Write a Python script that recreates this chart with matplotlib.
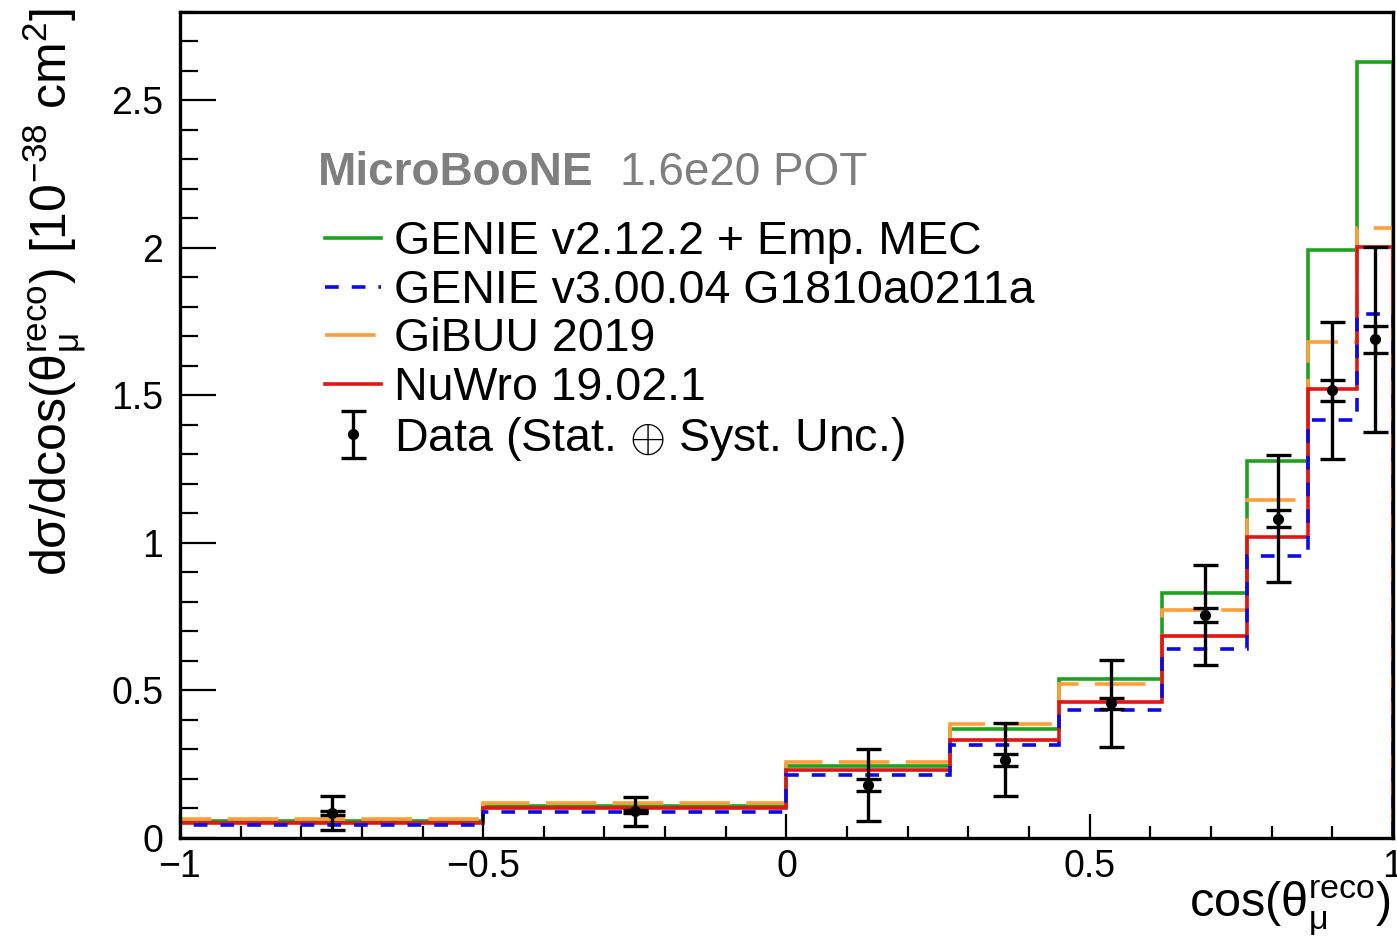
import numpy as np
import matplotlib
matplotlib.use("Agg")
import matplotlib.pyplot as plt

# bin edges in cos(theta_mu reco)
edges = [-1.0, -0.5, 0.0, 0.27, 0.45, 0.62, 0.76, 0.86, 0.94, 1.0]

# model predictions, 10^-38 cm^2
genie_v2 = [0.059, 0.110, 0.244, 0.369, 0.539, 0.832, 1.277, 1.994, 2.63]
genie_v3 = [0.044, 0.088, 0.214, 0.316, 0.434, 0.642, 0.956, 1.416, 1.777]
gibuu = [0.064, 0.119, 0.259, 0.386, 0.521, 0.772, 1.145, 1.68, 2.067]
nuwro = [0.052, 0.102, 0.229, 0.331, 0.462, 0.685, 1.021, 1.523, 2.003]

# data with stat and total (stat + syst) uncertainties
data = [0.085, 0.090, 0.180, 0.265, 0.456, 0.755, 1.083, 1.518, 1.690]
err_stat = [0.006, 0.006, 0.021, 0.020, 0.020, 0.024, 0.030, 0.035, 0.045]
err_tot = [0.057, 0.049, 0.123, 0.124, 0.146, 0.170, 0.215, 0.232, 0.315]

labels = ["GENIE v2.12.2 + Emp. MEC", "GENIE v3.00.04 G1810a0211a",
          "GiBUU 2019", "NuWro 19.02.1", "Data (Stat. $\\oplus$ Syst. Unc.)"]

plt.rcParams["font.family"] = ["Liberation Sans", "DejaVu Sans"]
plt.rcParams["mathtext.fontset"] = "custom"
plt.rcParams["mathtext.rm"] = "Liberation Sans"
plt.rcParams["mathtext.it"] = "Liberation Sans:italic"
plt.rcParams["mathtext.bf"] = "Liberation Sans:bold"

fig = plt.figure(figsize=(13.97, 9.44), dpi=100)
ax = fig.add_axes([0.1288, 0.1123, 0.8683, 0.875])

centers = 0.5 * (np.array(edges[:-1]) + np.array(edges[1:]))

lw = 2.6
h_v2 = ax.stairs(genie_v2, edges, color="#1fa01f", lw=lw)
h_gi = ax.stairs(gibuu, edges, color="#ff9f3a", lw=lw, linestyle=(0, (14, 4.5)))
h_nu = ax.stairs(nuwro, edges, color="#e01515", lw=lw)
h_v3 = ax.stairs(genie_v3, edges, color="#0b0be8", lw=lw, linestyle=(0, (3.8, 3.6)))

# total error
h_dat = ax.errorbar(centers, data, yerr=err_tot, fmt="o", color="black",
                    ms=7, elinewidth=2.4, capsize=9, capthick=2.4, zorder=5)
# stat error ticks
ax.errorbar(centers, data, yerr=err_stat, fmt="none", ecolor="black",
            elinewidth=2.4, capsize=9, capthick=2.4, zorder=5)

ax.set_xlim(-1, 1)
ax.set_ylim(0, 2.8)
ax.set_xticks([-1, -0.5, 0, 0.5, 1])
ax.set_xticklabels(["\u22121", "\u22120.5", "0", "0.5", "1"])
ax.set_yticks([0, 0.5, 1, 1.5, 2, 2.5])
ax.set_yticklabels(["0", "0.5", "1", "1.5", "2", "2.5"])
ax.set_xticks(np.arange(-1, 1.001, 0.1), minor=True)
ax.set_yticks(np.arange(0, 2.801, 0.1), minor=True)
ax.tick_params(axis="both", which="both", direction="in", width=1.6,
               labelsize=27, top=False, right=False)
ax.tick_params(axis="x", which="major", length=17, pad=8)
ax.tick_params(axis="x", which="minor", length=8.5)
ax.tick_params(axis="y", which="major", length=26, pad=12)
ax.tick_params(axis="y", which="minor", length=13)
for s in ax.spines.values():
    s.set_linewidth(2.4)

ax.set_ylabel("d\u03c3/dcos(\u03b8$^{\\mathrm{reco}}_{\\mathrm{\u03bc}}$) [10$^{\\mathrm{-38}}$ cm$^{\\mathrm{2}}$]",
              fontsize=36, loc="top")
ax.yaxis.set_label_coords(-0.075, 1.005)
ax.set_xlabel("cos(\u03b8$^{\\mathrm{reco}}_{\\mathrm{\u03bc}}$)", fontsize=35, loc="right")
ax.xaxis.set_label_coords(0.998, -0.05)

ax.text(0.1138, 0.805, "MicroBooNE", transform=ax.transAxes, fontsize=33,
        fontweight="bold", color="#7f7f7f", va="center", ha="left")
ax.text(0.3627, 0.805, "1.6e20 POT", transform=ax.transAxes, fontsize=33,
        color="#7f7f7f", va="center", ha="left")

ax.legend([h_v2, h_v3, h_gi, h_nu, h_dat], labels, loc="upper left",
          bbox_to_anchor=(0.1195, 0.748), frameon=False, fontsize=33.5,
          handlelength=1.2, handletextpad=0.28, labelspacing=0.1,
          borderpad=0, borderaxespad=0)

fig.savefig("out.png", dpi=100)
